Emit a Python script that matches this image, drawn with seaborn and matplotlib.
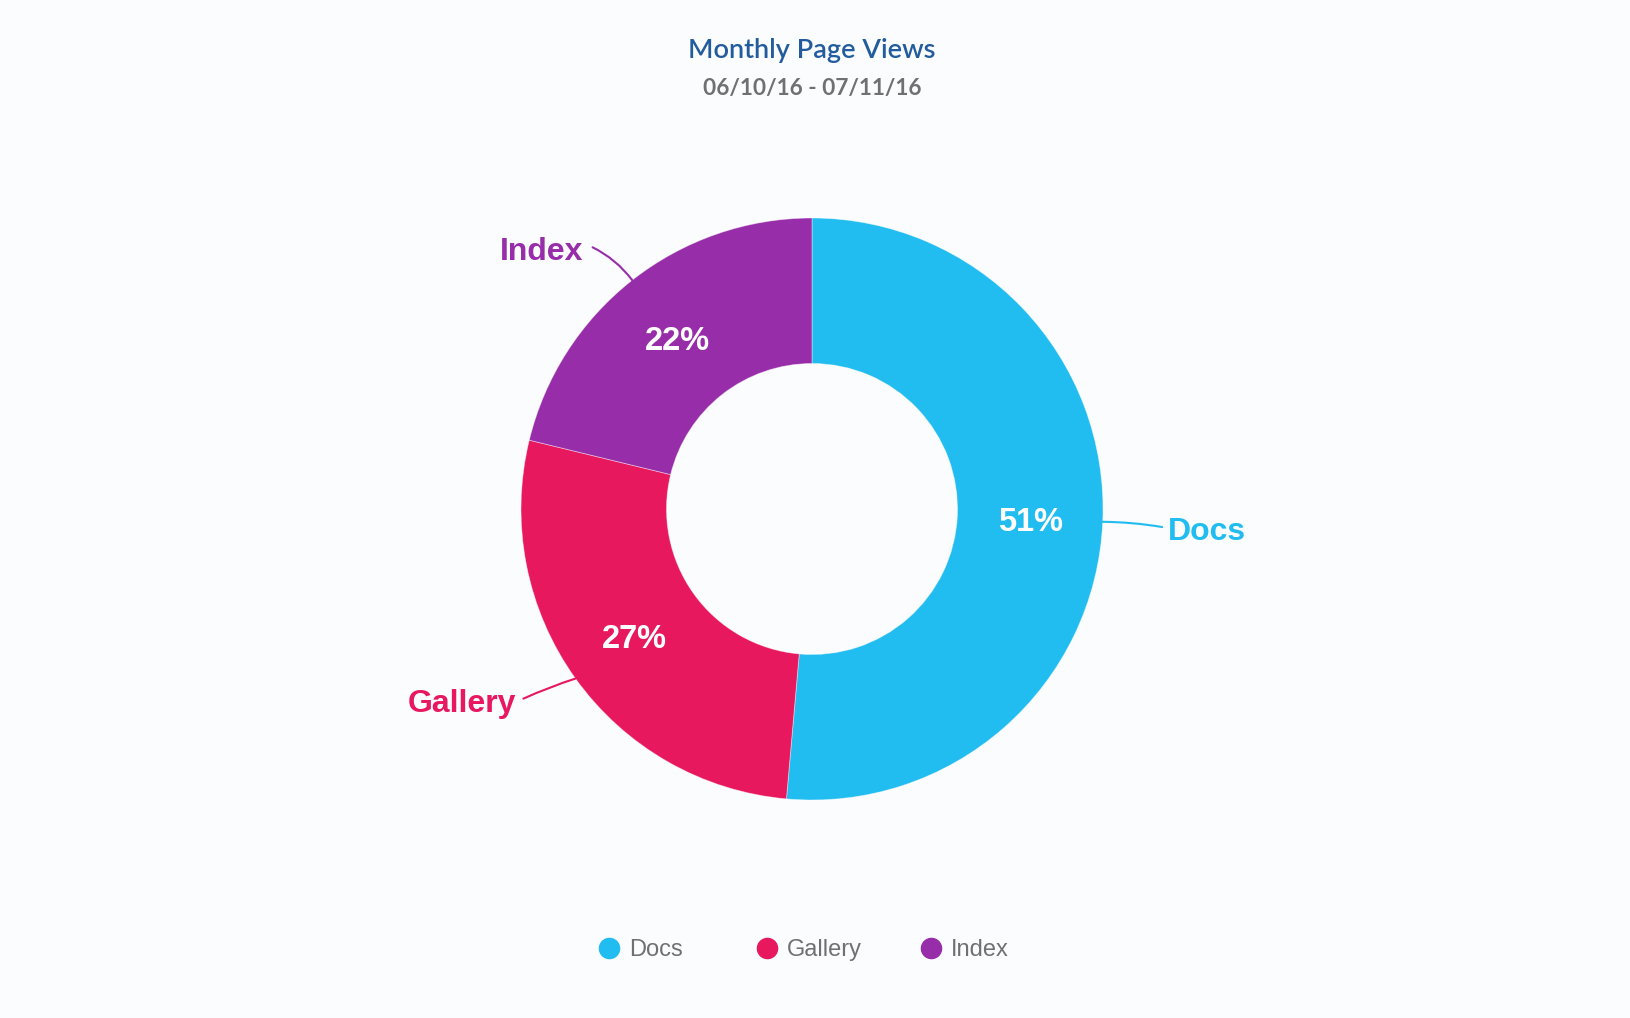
import matplotlib
matplotlib.use("Agg")
import matplotlib.pyplot as plt
from matplotlib.lines import Line2D
import seaborn as sns
import numpy as np

# ---- data ----
categories = ["Docs", "Gallery", "Index"]
shares = [51.4, 27.4, 21.2]          # slice sizes as drawn
pct_labels = ["51%", "27%", "22%"]   # labels as printed on the slices
colors = ["#21BCF0", "#E8185E", "#982DAA"]
title = "Monthly Page Views"
subtitle = "06/10/16 - 07/11/16"

BG = "#FBFCFE"
sns.set_theme(style="white")
plt.rcParams["font.family"] = ["Liberation Sans", "DejaVu Sans"]
palette = sns.color_palette(colors)

W, H = 1630, 1018
fig = plt.figure(figsize=(W / 100, H / 100), dpi=100, facecolor=BG)
ax = fig.add_axes([0, 0, 1, 1])
ax.set_facecolor(BG)

R = 291.0
cx, cy = 812.0, 509.0

wedges, _ = ax.pie(
    shares, colors=palette, startangle=90, counterclock=False,
    radius=1.0, wedgeprops=dict(width=0.5, edgecolor=(1, 1, 1, 0.45), linewidth=0.6))

ax.set_xlim(-cx / R, (W - cx) / R)
ax.set_ylim(-(H - cy) / R, cy / R)
ax.set_aspect("auto")
ax.axis("off")

# outside labels: (line end dx,dy from wedge edge point, text gap, ha, rad)
layout = {
    "Docs": ((0.204, -0.018), 0.021, "left", 0.04),
    "Gallery": ((-0.179, -0.069), -0.024, "right", -0.03),
    "Index": ((-0.136, 0.113), -0.031, "right", -0.12),
}
for w, cat, col, pl in zip(wedges, categories, colors, pct_labels):
    mid = np.deg2rad((w.theta1 + w.theta2) / 2)
    x0, y0 = np.cos(mid), np.sin(mid)
    ax.text(0.75 * x0, 0.75 * y0 - 0.013, pl, color="white", fontsize=23.5,
            fontweight="bold", ha="center", va="center")
    (dx, dy), gap, ha, rad = layout[cat]
    x1, y1 = x0 + dx, y0 + dy
    ax.annotate("", xy=(x0, y0), xytext=(x1, y1),
                arrowprops=dict(arrowstyle="-", color=col, lw=1.5,
                                connectionstyle=f"arc3,rad={rad}",
                                shrinkA=0, shrinkB=0))
    ax.text(x1 + gap, y1 - 0.017, cat, color=col, fontsize=23,
            fontweight="bold", ha=ha, va="center")

fig.text(cx / W, 1 - 51 / H, title, ha="center", va="center",
         fontsize=19.5, color="#225C9C", family=["Lato", "DejaVu Sans"],
         fontweight="semibold")
fig.text(cx / W, 1 - 88 / H, subtitle, ha="center", va="center",
         fontsize=16.3, color="#707070", family=["Lato", "DejaVu Sans"],
         fontweight="bold")

# legend: one entry per legend, anchored at marker centres
fs = 17
fs_px = fs * 100 / 72
marker_x = [609, 767, 931]
for c, cat, mx in zip(colors, categories, marker_x):
    h = Line2D([0], [0], marker="o", linestyle="none", markersize=14.5,
               markerfacecolor=c, markeredgecolor=c)
    leg = fig.legend([h], [cat], loc="center left",
                     bbox_to_anchor=((mx - fs_px * 0.5) / W, 1 - 950 / H),
                     frameon=False, fontsize=fs, handlelength=1.0,
                     handletextpad=0.36, borderpad=0, borderaxespad=0)
    for t in leg.get_texts():
        t.set_color("#707070")

fig.savefig("out.png", dpi=100, facecolor=BG)
